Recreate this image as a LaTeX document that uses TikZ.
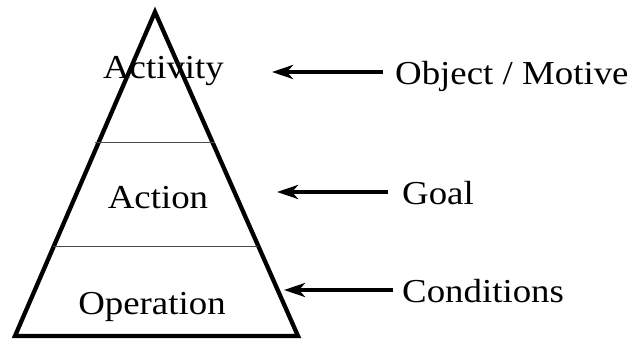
\documentclass[tikz,border=0pt]{standalone}
\usepackage{fontspec}
\setmainfont[FakeStretch=1.1]{Liberation Serif}
\usetikzlibrary{arrows.meta}
\begin{document}
\begin{tikzpicture}[x=1pt,y=-1pt,
  lbl/.style={inner sep=0pt,font=\fontsize{33.5}{36}\selectfont},
  sideLbl/.style={lbl,anchor=base west},
  levelLbl/.style={lbl,anchor=base},
  pointer/.style={line width=3.6pt,-{Stealth[length=21pt,width=14pt,inset=6pt]}},
  edge/.style={line width=4.3pt,line join=miter},
  divider/.style={line width=1pt,draw=black!70}]
\useasboundingbox (0,0) rectangle (630,339);
% triangle
\coordinate (apex) at (155,12);
\coordinate (bl) at (15,336);
\coordinate (br) at (298,336);
\draw[edge] (apex) -- (br) -- (bl) -- cycle;
% dividers
\coordinate (d1l) at (95,143);
\coordinate (d1r) at (215,143);
\coordinate (d2l) at (53,247);
\coordinate (d2r) at (258,247);
\draw[divider] (d1l) -- (d1r);
\draw[divider] (d2l) -- (d2r);
% level labels
\node[levelLbl] (activity) at (163.5,79) {Activity};
\node[levelLbl] (action) at (158,209) {Action};
\node[levelLbl] (operation) at (152,315) {Operation};
% side labels
\node[sideLbl] (object) at (395,85) {Object / Motive};
\node[sideLbl] (goal) at (402,205) {Goal};
\node[sideLbl] (cond) at (402,303) {Conditions};
% arrows
\coordinate (t1s) at (383,72);
\coordinate (t1e) at (272,72);
\coordinate (t2s) at (388,192);
\coordinate (t2e) at (277,192);
\coordinate (t3s) at (393,290);
\coordinate (t3e) at (284,290);
\draw[pointer] (t1s) -- (t1e);
\draw[pointer] (t2s) -- (t2e);
\draw[pointer] (t3s) -- (t3e);
\end{tikzpicture}
\end{document}
